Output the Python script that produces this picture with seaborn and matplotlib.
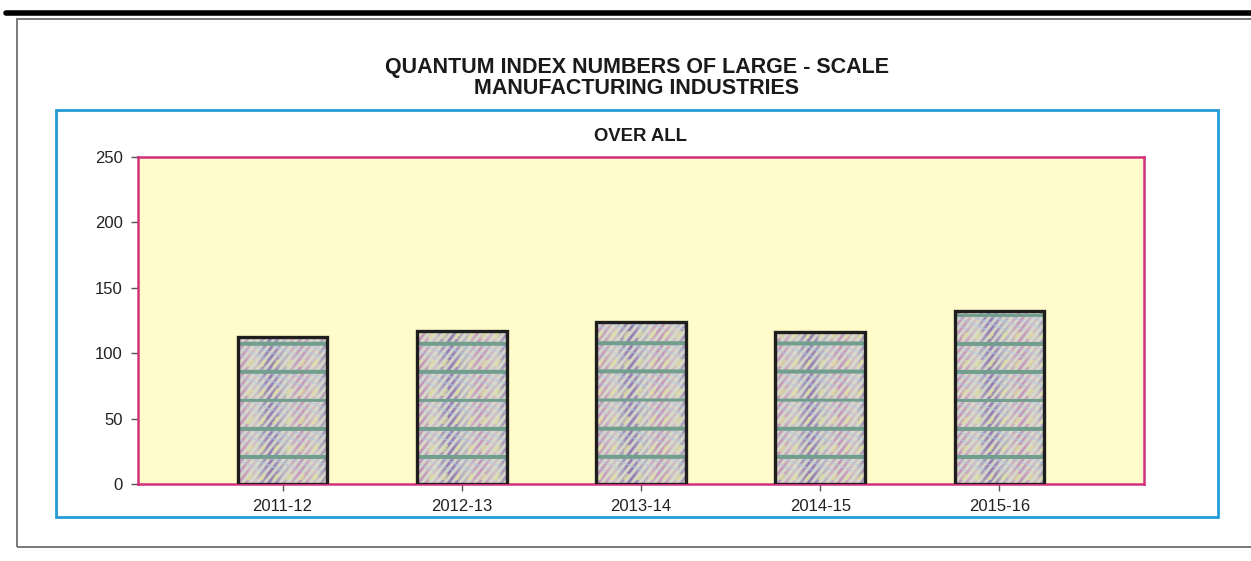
import numpy as np
import pandas as pd
import matplotlib
matplotlib.use('Agg')
import matplotlib.pyplot as plt
import seaborn as sns
from matplotlib.patches import Rectangle
from matplotlib.lines import Line2D

# data
years = ['2011-12', '2012-13', '2013-14', '2014-15', '2015-16']
index_values = [112.2, 116.8, 123.9, 116.5, 132.2]

df = pd.DataFrame({'Year': years, 'Index': index_values})

sns.set_style('white')
plt.rcParams['font.family'] = ['Liberation Sans', 'DejaVu Sans']

W, H = 1251, 561
fig = plt.figure(figsize=(W / 100, H / 100), dpi=100)
fig.patch.set_facecolor('white')

# axes box in pixels (left, top, right, bottom)
L, T, R, B = 138, 157, 1144, 484
ax = fig.add_axes([L / W, 1 - B / H, (R - L) / W, (B - T) / H])
ax.set_facecolor('#fffbcb')

sns.barplot(data=df, x='Year', y='Index', ax=ax, color='#c9ccc4',
            width=0.5, edgecolor='#1e1e1e', linewidth=2.4, zorder=3)

ax.set_xlim(-0.807, 4.807)
ax.set_ylim(0, 250)
ax.set_yticks(range(0, 251, 50))

# decorative wallpaper texture inside the bars, like the original fill image
ph, pw = B - T, R - L
yy, xx = np.mgrid[0:ph, 0:pw].astype(float)
yb = ph - 1 - yy  # pixels above the baseline
tile = 28.3
ty = np.mod(yb, tile)
tx = np.mod(xx, 30.0)
base = np.ones((ph, pw, 3)) * np.array([0.85, 0.87, 0.80])
purple = np.array([0.55, 0.44, 0.68])
pink = np.array([0.76, 0.56, 0.72])
lightb = np.array([0.70, 0.78, 0.88])
yellow = np.array([0.88, 0.88, 0.62])
stroke = 0.5 + 0.5 * np.sin(2 * np.pi * (xx - 0.8 * ty) / 7.5)
blob = 0.5 + 0.5 * np.cos(2 * np.pi * (tx - 12) / 30.0)
mix = np.clip(stroke ** 1.2 * (0.4 + 0.6 * blob), 0, 1)[..., None]
col = np.where((np.mod(xx, 60) < 30)[..., None], purple, pink)
img = base * (1 - mix) + col * mix
blu = (np.sin(2 * np.pi * (xx + 2.5 * ty) / 19.0) > 0.75) & (ty > 12)
img[blu] = img[blu] * 0.4 + lightb * 0.6
yel = (np.sin(2 * np.pi * (xx - 0.6 * ty) / 13.0) > 0.6) & (ty > 3) & (ty < 10)
img[yel] = img[yel] * 0.3 + yellow * 0.7
band = (ty >= tile - 3.6)
img[band] = np.array([0.45, 0.62, 0.56])
for bar in ax.patches:
    im = ax.imshow(img, extent=(-0.807, 4.807, 0, 250), aspect='auto',
                   origin='upper', zorder=2.5, interpolation='bilinear')
    im.set_clip_path(bar)
    bar.set_facecolor('none')

for side in ['left', 'right', 'top', 'bottom']:
    ax.spines[side].set_color('#d2307c')
    ax.spines[side].set_linewidth(1.8)

ax.tick_params(axis='both', which='both', length=5, width=1,
               color='#555555', labelcolor='#222222', labelsize=12,
               left=True, bottom=True, direction='out', pad=6)
ax.set_xlabel('')
ax.set_ylabel('')

# frames around the chart
fig.add_artist(Line2D([6 / W, 1.0], [1 - 13 / H, 1 - 13 / H],
                      transform=fig.transFigure, color='black', linewidth=4))
fig.add_artist(Rectangle((17 / W, 1 - 547 / H), 1.1, (547 - 19) / H,
                         transform=fig.transFigure, fill=False,
                         edgecolor='#6e6e6e', linewidth=1.3))
fig.add_artist(Rectangle((56 / W, 1 - 517 / H), (1218 - 56) / W, (517 - 110) / H,
                         transform=fig.transFigure, fill=False,
                         edgecolor='#259ad6', linewidth=2))

fig.text(637 / W, 1 - 67 / H, 'QUANTUM INDEX NUMBERS OF LARGE - SCALE',
         ha='center', va='center', fontsize=15.5, fontweight='bold', color='#1a1a1a')
fig.text(637 / W, 1 - 88.5 / H, 'MANUFACTURING INDUSTRIES',
         ha='center', va='center', fontsize=15.5, fontweight='bold', color='#1a1a1a')
fig.text(641 / W, 1 - 137 / H, 'OVER ALL',
         ha='center', va='center', fontsize=13.3, fontweight='bold', color='#1a1a1a')

fig.savefig('out.png', dpi=100)
